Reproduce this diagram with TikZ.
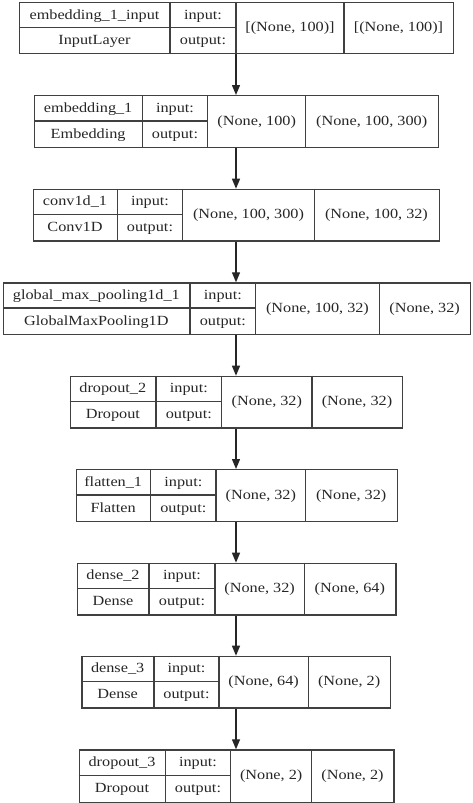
\documentclass[tikz,border=0pt]{standalone}
\usepackage{fontspec}
\setmainfont[FakeStretch=1.16]{Liberation Serif}
\usetikzlibrary{arrows.meta}
\tikzset{
  edge/.style={draw=black!75, line width=1.4pt},
  txt/.style={font=\fontsize{14}{16}\selectfont, text=black!85, inner sep=0pt, anchor=base},
  frame/.style={draw=black!75, line width=1.4pt, rectangle, inner sep=0pt, anchor=north west},
  arr/.style={draw=black!85, line width=1.3pt, -{Triangle[length=10pt,width=8pt]}}
}
\newcommand\lay[9]{\def\Lid{#1}\def\Lt{#2}\def\Lb{#3}\def\La{#4}\def\Lc{#5}\def\Ld{#6}\def\Le{#7}\def\Lf{#8}\def\Lname{#9}\layB}
\newcommand\layB[3]{%
  \pgfmathsetmacro\Lm{(\Lt+\Lb)/2}%
  \pgfmathsetmacro\Lw{\Lf-\La}%
  \pgfmathsetmacro\Lh{\Lb-\Lt}%
  \node[frame, minimum width=\Lw pt, minimum height=\Lh pt] (\Lid) at (\La,\Lt) {};
  \draw[edge] (\Lc,\Lt) -- (\Lc,\Lb);
  \draw[edge] (\Ld,\Lt) -- (\Ld,\Lb);
  \draw[edge] (\Le,\Lt) -- (\Le,\Lb);
  \draw[edge] (\La,\Lm) -- (\Ld,\Lm);
  \node[txt] (\Lid-n) at ({(\La+\Lc)/2},{(\Lt+\Lm)/2+4.3}) {\Lname};
  \node[txt] (\Lid-t) at ({(\La+\Lc)/2},{(\Lm+\Lb)/2+4.3}) {#1};
  \node[txt] (\Lid-i) at ({(\Lc+\Ld)/2},{(\Lt+\Lm)/2+4.3}) {input:};
  \node[txt] (\Lid-o) at ({(\Lc+\Ld)/2},{(\Lm+\Lb)/2+4.3}) {output:};
  \node[txt] (\Lid-x) at ({(\Ld+\Le)/2},{\Lm+4.3}) {#2};
  \node[txt] (\Lid-y) at ({(\Le+\Lf)/2},{\Lm+4.3}) {#3};
}
\begin{document}
\begin{tikzpicture}[x=1pt,y=-1pt]
\useasboundingbox (0,0) rectangle (472,803);
\lay{b1}{2}{53}{19}{170}{236}{344}{453}{embedding\_1\_input}{InputLayer}{[(None, 100)]}{[(None, 100)]}
\lay{b2}{95}{146.7}{34}{142.3}{207.7}{305.7}{437.7}{embedding\_1}{Embedding}{(None, 100)}{(None, 100, 300)}
\lay{b3}{188.7}{240.3}{32.7}{117.3}{182.7}{314.3}{438.7}{conv1d\_1}{Conv1D}{(None, 100, 300)}{(None, 100, 32)}
\lay{b4}{282.3}{334}{2.7}{190}{255.7}{379.3}{470}{global\_max\_pooling1d\_1}{GlobalMaxPooling1D}{(None, 100, 32)}{(None, 32)}
\lay{b5}{375.7}{427.3}{69.7}{156}{221.7}{312}{402}{dropout\_2}{Dropout}{(None, 32)}{(None, 32)}
\lay{b6}{469}{520.7}{75.7}{150.7}{216}{305.7}{396.7}{flatten\_1}{Flatten}{(None, 32)}{(None, 32)}
\lay{b7}{562.7}{614.3}{77}{149}{215}{304.3}{395.3}{dense\_2}{Dense}{(None, 32)}{(None, 64)}
\lay{b8}{655.7}{707.3}{81.3}{154}{219}{308.3}{390}{dense\_3}{Dense}{(None, 64)}{(None, 2)}
\lay{b9}{749.3}{801.7}{78.7}{165.3}{230.7}{311.7}{393.3}{dropout\_3}{Dropout}{(None, 2)}{(None, 2)}
\coordinate (ax) at (236,0);
\foreach \p/\q in {b1/b2,b2/b3,b3/b4,b4/b5,b5/b6,b6/b7,b7/b8,b8/b9}
  \draw[arr] (\p.south -| ax) -- (\q.north -| ax);
\end{tikzpicture}
\end{document}
